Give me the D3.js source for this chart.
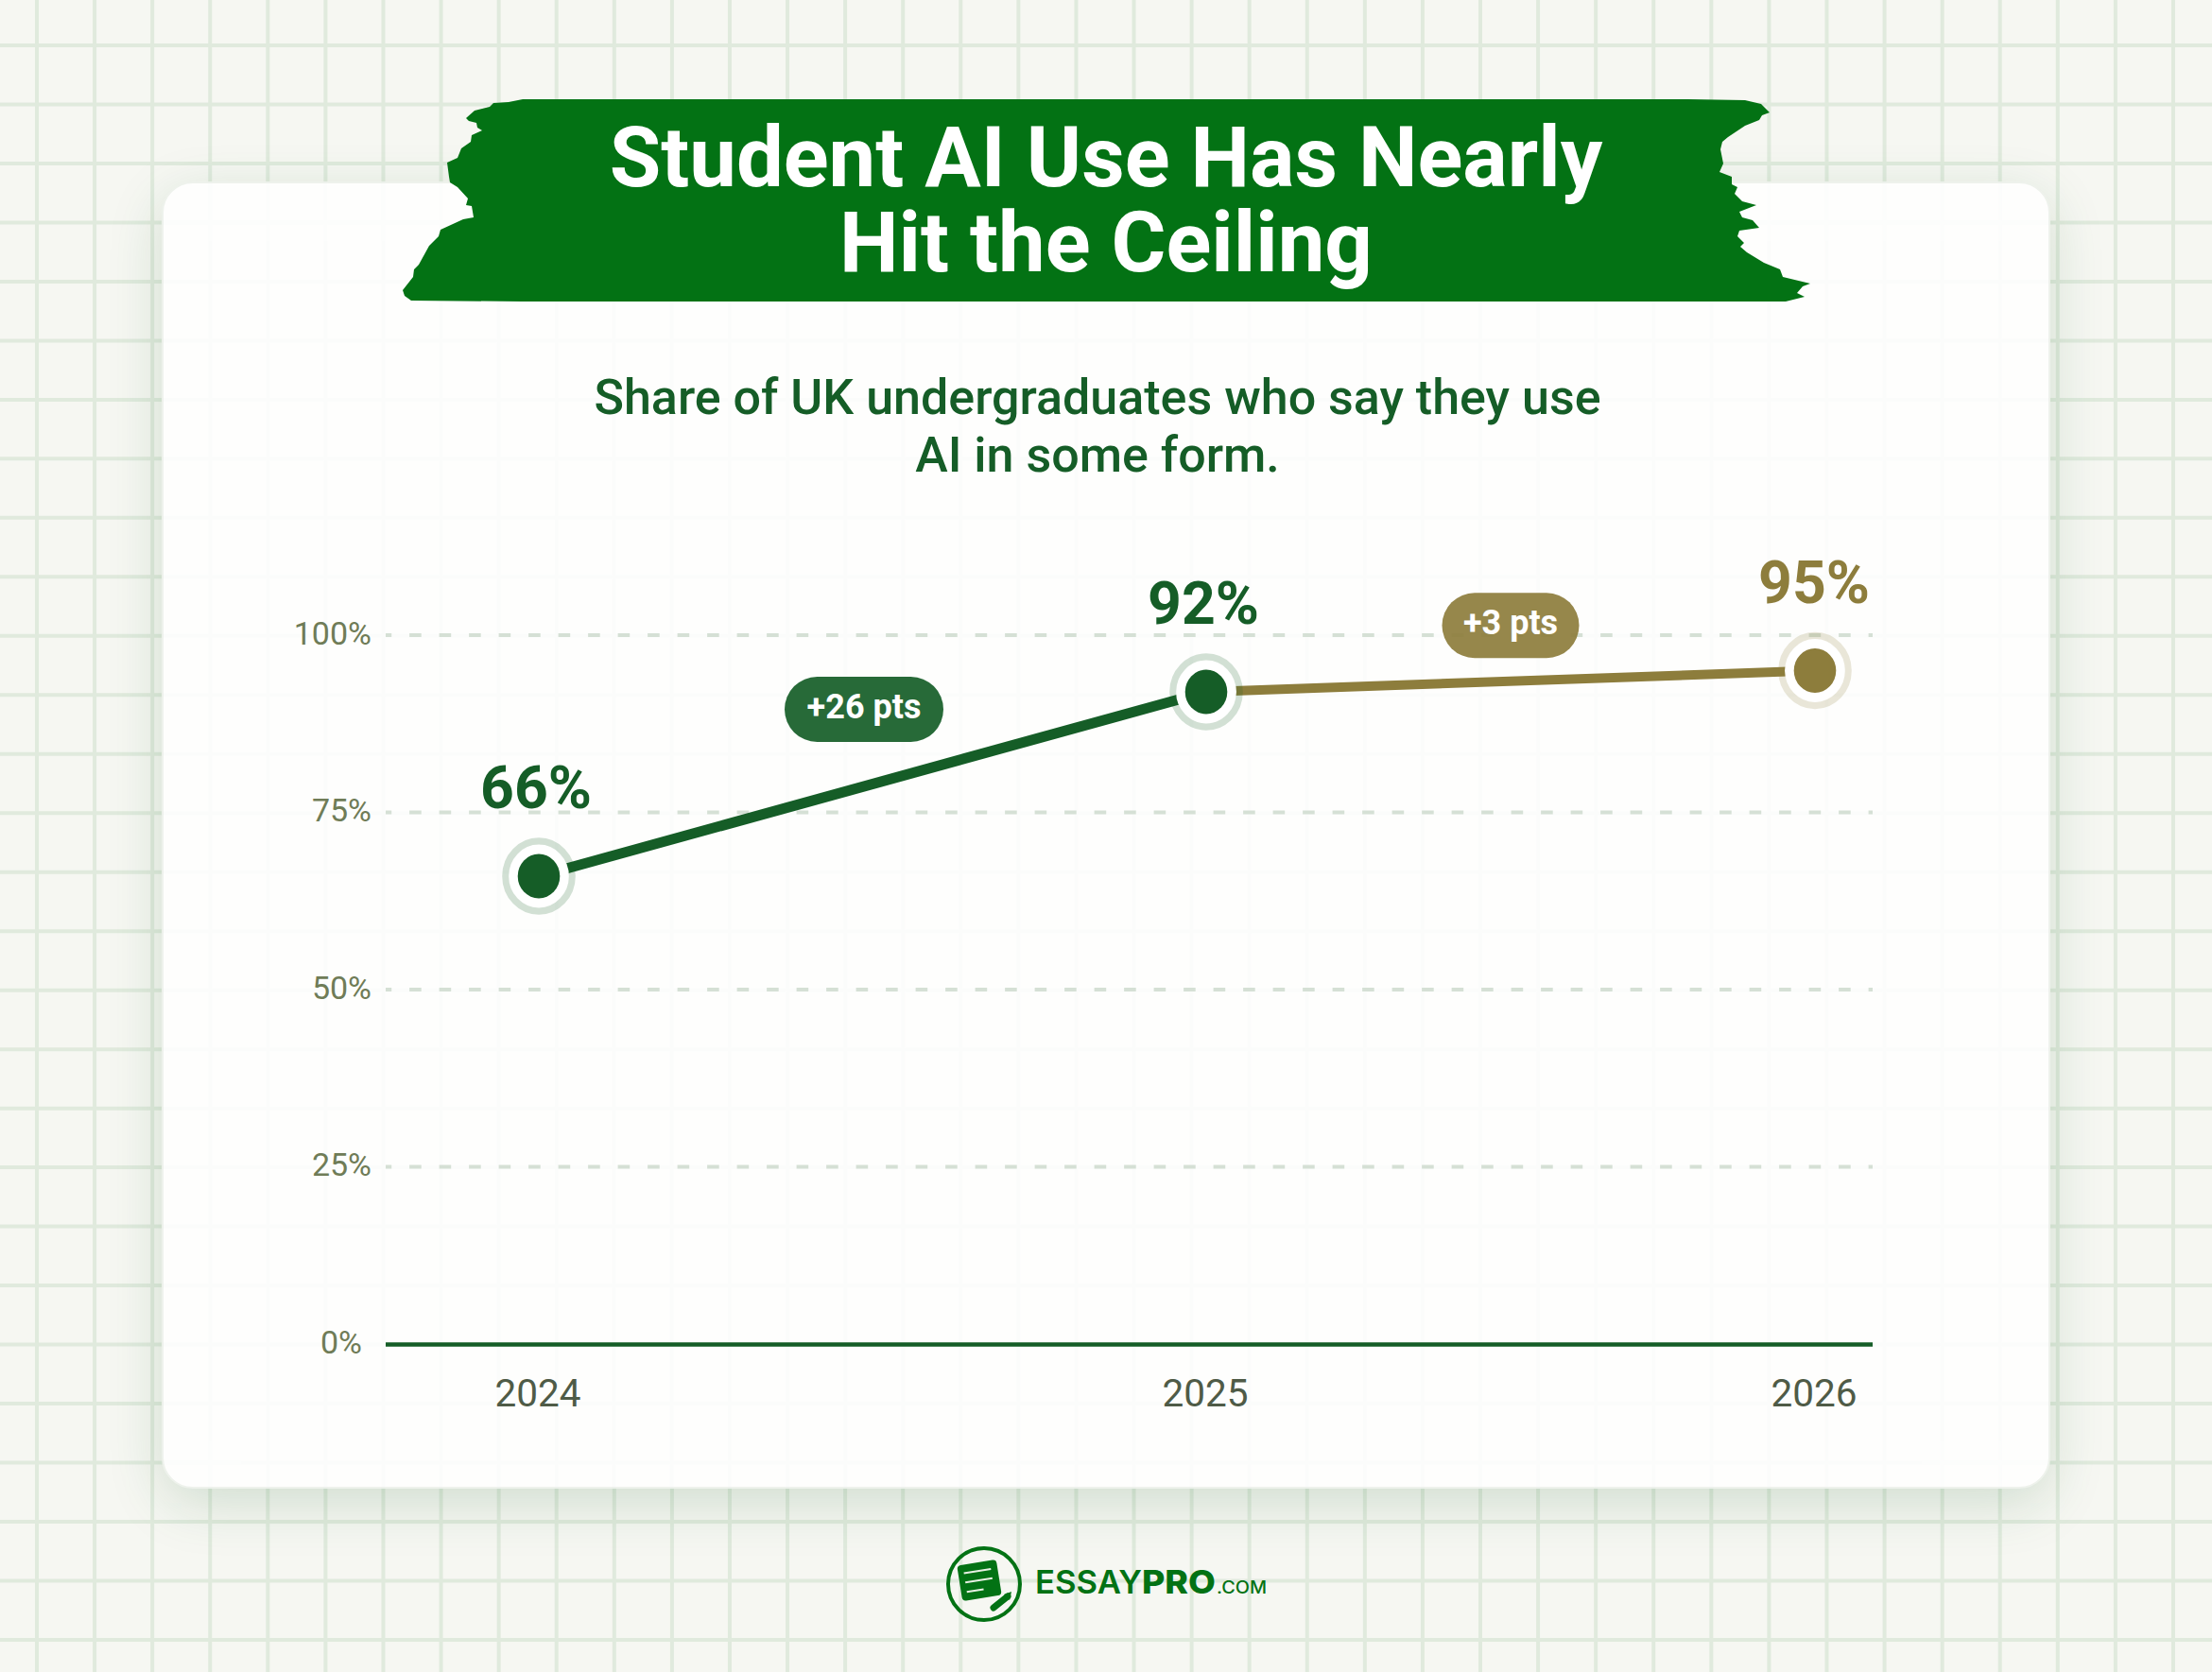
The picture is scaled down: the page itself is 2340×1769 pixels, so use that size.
<!DOCTYPE html>
<html><head><meta charset="utf-8">
<script src="https://cdn.jsdelivr.net/npm/d3@7"></script>
<style>html,body{margin:0;padding:0;background:#f6f7f2}svg{display:block}</style>
</head><body><svg id="c" width="2340" height="1769"></svg>
<script>
const years=[2024,2025,2026];
const shares=[66,92,95];
const changes=["+26 pts","+3 pts"];
const yTicks=[0,25,50,75,100];
const titleLines=["Student AI Use Has Nearly","Hit the Ceiling"];
const subtitleLines=["Share of UK undergraduates who say they use","AI in some form."];

const GREEN="#155d27",OLIVE="#8d7d3c",BANNER="#037214";
const svg=d3.select("#c");
const W=2340,H=1769;
const font="Roboto, sans-serif";

const defs=svg.append("defs");
const f=defs.append("filter").attr("id","sh").attr("x","-15%").attr("y","-15%").attr("width","130%").attr("height","130%");
f.append("feGaussianBlur").attr("stdDeviation",30);

svg.append("rect").attr("width",W).attr("height",H).attr("fill","#f6f7f2");
function grid(g,color){
  g.selectAll(".v").data(d3.range(0,38)).join("line").attr("x1",i=>39+61.08*i).attr("x2",i=>39+61.08*i).attr("y1",0).attr("y2",H).attr("stroke",color).attr("stroke-width",4);
  g.selectAll(".h").data(d3.range(0,28)).join("line").attr("y1",i=>48+62.48*i).attr("y2",i=>48+62.48*i).attr("x1",0).attr("x2",W).attr("stroke",color).attr("stroke-width",4);
}
svg.append("g").call(grid,"#e0eadd");

// card
const cx=172,cy=193,cw=1996,ch=1381;
svg.append("rect").attr("x",cx).attr("y",cy+16).attr("width",cw).attr("height",ch).attr("rx",32).attr("fill","#155d27").attr("opacity",0.17).attr("filter","url(#sh)");
svg.append("rect").attr("x",cx).attr("y",cy).attr("width",cw).attr("height",ch).attr("rx",32).attr("fill","#fefefd").attr("stroke","#eef2ec").attr("stroke-width",2);
const clip=defs.append("clipPath").attr("id","cardclip");
clip.append("rect").attr("x",cx).attr("y",cy).attr("width",cw).attr("height",ch).attr("rx",32);
svg.append("g").attr("clip-path","url(#cardclip)").attr("opacity",0.035).call(grid,"#c4cfe0");

// torn banner
const bannerPts=[[553,105],[1786,105],[1846,106],[1863,110],[1872,119],[1864,122],[1861,127],[1846,133],[1828,145],[1822,150],[1820,158],[1823,173],[1819,182],[1832,187],[1832,195],[1838,198],[1835,205],[1843,213],[1858,217],[1840,224],[1843,230],[1854,233],[1861,241],[1840,244],[1838,250],[1845,257],[1841,261],[1848,267],[1866,278],[1883,285],[1886,293],[1915,300],[1907,303],[1901,310],[1909,314],[1889,319],[1786,319],[553,319],[435,318],[428,313],[426,307],[437,293],[438,285],[443,280],[454,260],[464,250],[466,243],[490,232],[501,230],[499,218],[493,217],[495,210],[484,198],[476,193],[475,187],[473,172],[484,167],[488,157],[498,150],[499,143],[510,138],[505,135],[504,130],[496,128],[493,125],[502,117],[518,113],[522,109],[538,108]];
svg.append("path").attr("d",d3.line().curve(d3.curveLinearClosed)(bannerPts)).attr("fill",BANNER);

svg.append("g").selectAll("text").data(titleLines).join("text")
  .attr("x",1170).attr("y",(d,i)=>197+i*90).attr("text-anchor","middle")
  .attr("font-family",font).attr("font-weight",700).attr("font-size",88.6).attr("fill","#fff").text(d=>d);
svg.append("g").selectAll("text").data(subtitleLines).join("text")
  .attr("x",1161).attr("y",(d,i)=>438+i*61).attr("text-anchor","middle")
  .attr("font-family",font).attr("font-weight",500).attr("font-size",52).attr("fill",GREEN).text(d=>d);

// scales
const x=d3.scaleLinear().domain(years).range([570,1276,1920]);
const y=d3.scaleLinear().domain([0,100]).range([1422,672]);
const X0=408,X1=1981;

const ya=svg.append("g").attr("transform",`translate(${X0},0)`)
  .call(d3.axisLeft(y).tickValues(yTicks).tickSize(-(X1-X0)).tickPadding(15).tickFormat(d=>d+"%").offset(0));
ya.select(".domain").remove();
ya.selectAll("text").attr("font-family",font).attr("font-size",34).attr("fill","#6f7c57").attr("dy","0.29em");
ya.selectAll("line").attr("stroke","#d5e0d5").attr("stroke-width",4).attr("stroke-dasharray","12.6 18.9").attr("stroke-dashoffset",6.4);
const zeroTick=ya.selectAll(".tick").filter(d=>d===0);
zeroTick.select("line").attr("stroke",GREEN).attr("stroke-width",4.5).attr("stroke-dasharray",null).attr("transform","translate(0,0.5)");
zeroTick.select("text").attr("x",-25);

const xa=svg.append("g").attr("transform",`translate(0,${y(0)})`)
  .call(d3.axisBottom(x).tickValues(years).tickSize(0).tickFormat(d3.format("d")).offset(0));
xa.select(".domain").remove();
xa.selectAll("text").attr("font-family",font).attr("font-size",40.5).attr("fill","#4f5b47").attr("x",-1).attr("y",66).attr("dy",0);

// segments
const segColors=[GREEN,OLIVE], segWidths=[11,10], dotColors=[GREEN,GREEN,OLIVE];
svg.append("g").selectAll("line").data(d3.pairs(years.map((yr,i)=>({yr,v:shares[i]})))).join("line")
  .attr("x1",d=>x(d[0].yr)).attr("y1",d=>y(d[0].v)).attr("x2",d=>x(d[1].yr)).attr("y2",d=>y(d[1].v))
  .attr("stroke",(d,i)=>segColors[i]).attr("stroke-width",(d,i)=>segWidths[i]);

const pts=svg.append("g").selectAll("g").data(years).join("g").attr("transform",(d,i)=>`translate(${x(d)},${y(shares[i])})`);
const discs=pts.append("g").attr("transform","scale(1,1.05)");
discs.append("circle").attr("r",32).attr("fill","#fff");
discs.append("circle").attr("r",35.3).attr("fill","none").attr("stroke",(d,i)=>dotColors[i]).attr("stroke-opacity",0.19).attr("stroke-width",7);
discs.append("circle").attr("r",22.3).attr("fill",(d,i)=>dotColors[i]);
const lblDx=[-3,-3,-1];
pts.append("text").attr("x",(d,i)=>lblDx[i]).attr("y",-72).attr("text-anchor","middle")
  .attr("font-family",font).attr("font-weight",700).attr("font-size",62.5).attr("fill",(d,i)=>dotColors[i]).text((d,i)=>shares[i]+"%");

// pills
const pillOff=[[-9,-79],[0,-59]], pillW=[168,145], pillH=69;
const pills=svg.append("g").selectAll("g").data(changes).join("g").attr("transform",(d,i)=>{
  const mx=(x(years[i])+x(years[i+1]))/2,my=(y(shares[i])+y(shares[i+1]))/2;
  return `translate(${mx+pillOff[i][0]},${my+pillOff[i][1]})`;});
pills.append("rect").attr("x",(d,i)=>-pillW[i]/2).attr("y",-pillH/2).attr("width",(d,i)=>pillW[i]).attr("height",pillH).attr("rx",34.5)
  .attr("fill",(d,i)=>segColors[i]).attr("opacity",0.92);
pills.append("text").attr("text-anchor","middle").attr("y",9).attr("font-family",font).attr("font-weight",700).attr("font-size",36).attr("fill","#fff").text(d=>d);

// logo
const L=svg.append("g");
L.append("circle").attr("cx",1041).attr("cy",1676).attr("r",38).attr("fill","none").attr("stroke",BANNER).attr("stroke-width",4);
const note=L.append("g").attr("transform","translate(1036,1672) rotate(-9)");
note.append("rect").attr("x",-21).attr("y",-19).attr("width",42).attr("height",38).attr("rx",4).attr("fill",BANNER);
note.selectAll("line").data([[-10,14],[0,14],[10,3]]).join("line").attr("x1",-15).attr("x2",d=>d[1]).attr("y1",d=>d[0]).attr("y2",d=>d[0]).attr("stroke","#e8f0e4").attr("stroke-width",2);
L.append("line").attr("x1",1051).attr("y1",1701).attr("x2",1066).attr("y2",1689).attr("stroke",BANNER).attr("stroke-width",7).attr("stroke-linecap","round");
L.append("path").attr("d","M1062,1687 L1070,1684 L1068,1693 Z").attr("fill",BANNER);
const logoParts=[["ESSAY",1095,113,600,34],["PRO",1208,78,800,34],[".COM",1287,53,500,18]];
L.selectAll("text").data(logoParts).join("text").attr("x",d=>d[1]).attr("y",1686).attr("textLength",d=>d[2]).attr("lengthAdjust","spacingAndGlyphs")
  .attr("font-family","Inter, sans-serif").attr("font-weight",d=>d[3]).attr("font-size",d=>d[4]).attr("fill",BANNER).text(d=>d[0]);
</script></body></html>
